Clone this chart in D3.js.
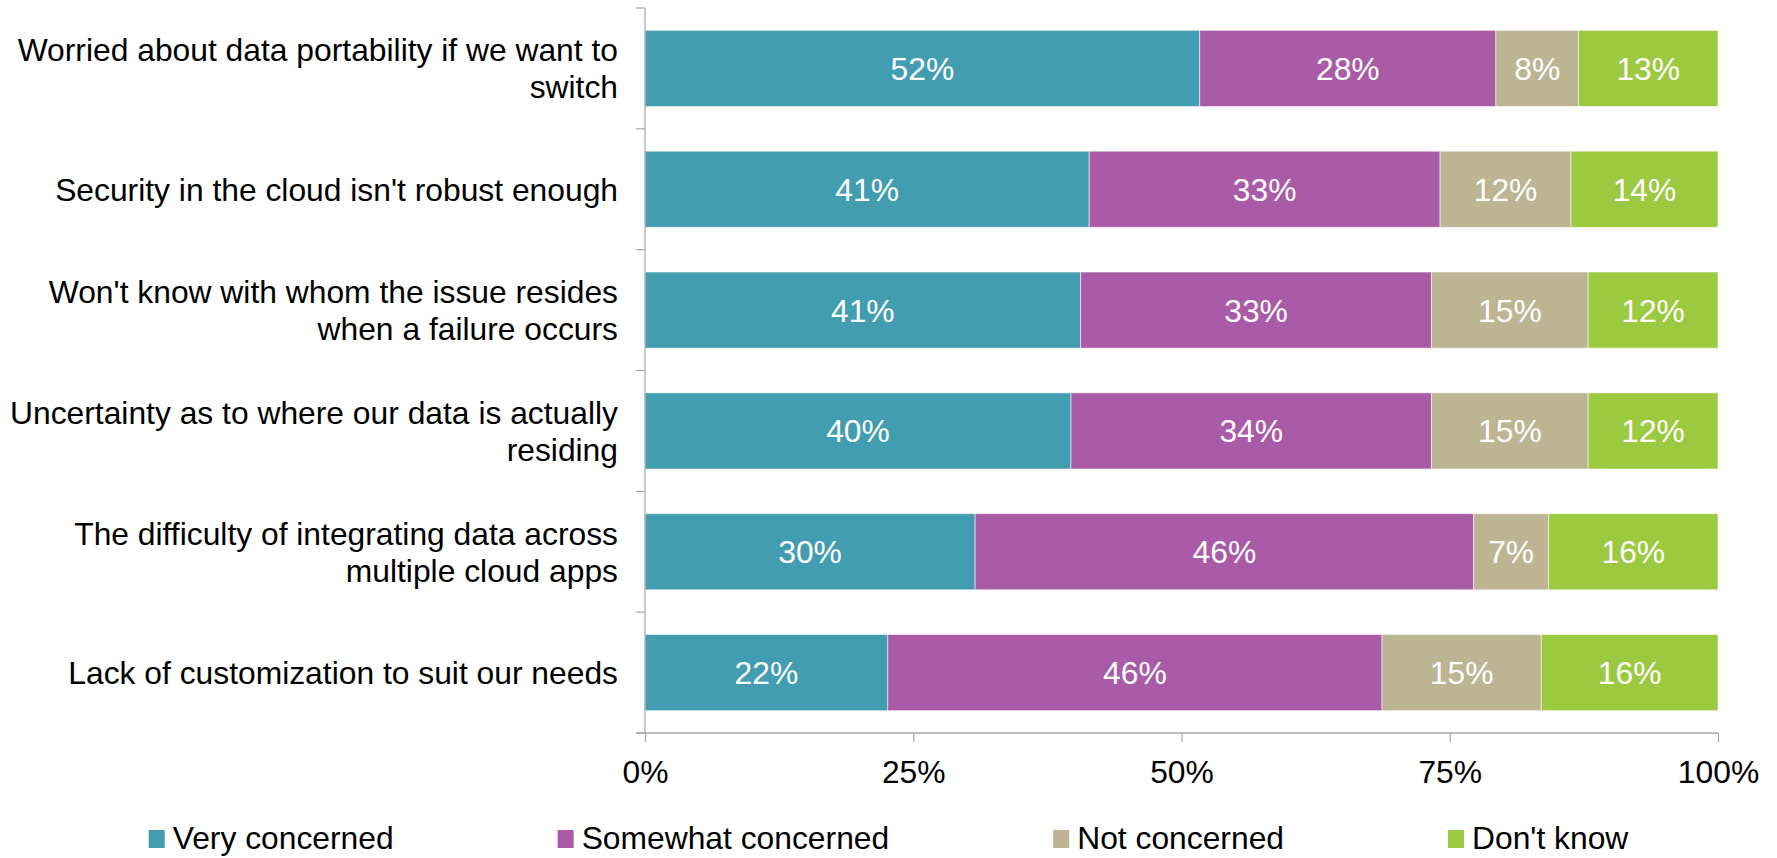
<!DOCTYPE html>
<html>
<head>
<meta charset="utf-8">
<script src="https://cdn.jsdelivr.net/npm/d3@7"></script>
<style>
  html, body { margin: 0; padding: 0; background: #ffffff; }
  svg { display: block; font-family: "Liberation Sans", Arial, sans-serif; }
</style>
</head>
<body>
<svg id="chart" width="1777" height="858"></svg>
<script>
// Survey concerns about cloud data, share of respondents per answer
const categories = [
  "Worried about data portability if we want to switch",
  "Security in the cloud isn't robust enough",
  "Won't know with whom the issue resides when a failure occurs",
  "Uncertainty as to where our data is actually residing",
  "The difficulty of integrating data across multiple cloud apps",
  "Lack of customization to suit our needs"
];
const seriesNames = ["Very concerned", "Somewhat concerned", "Not concerned", "Don't know"];
const veryConcerned     = [51.7, 41.4, 40.6, 39.7, 30.4, 22.4];
const somewhatConcerned = [27.6, 32.7, 32.7, 33.6, 45.9, 45.6];
const notConcerned      = [ 7.7, 12.2, 14.6, 14.6,  6.9, 14.7];
const dontKnow          = [13.0, 13.7, 12.1, 12.1, 15.6, 16.3];
const xTicks = [0, 0.25, 0.5, 0.75, 1];
const colors = ["#419DAF", "#A95BA8", "#BCB493", "#9BC940"];

const seriesValues = [veryConcerned, somewhatConcerned, notConcerned, dontKnow];
const rows = categories.map((c, i) => {
  const r = { category: c };
  seriesNames.forEach((s, k) => { r[s] = seriesValues[k][i]; });
  return r;
});

const svg = d3.select("#chart");
const FONT = 31.8;
const plot = { left: 645, right: 1718, top: 8, bottom: 733 };

const x = d3.scaleLinear().domain([0, 1]).range([plot.left, plot.right]);
const y = d3.scaleBand().domain(categories)
  .range([plot.top, plot.bottom]).paddingInner(0.37).paddingOuter(0.185);
const color = d3.scaleOrdinal().domain(seriesNames).range(colors);

// 100% stacked layout
const stack = d3.stack().keys(seriesNames).offset(d3.stackOffsetExpand);
const layers = stack(rows);

const gBars = svg.append("g");
layers.forEach(layer => {
  const g = gBars.append("g").attr("fill", color(layer.key));
  g.selectAll("rect").data(layer).join("rect")
    .attr("x", d => x(d[0]))
    .attr("y", d => y(d.data.category))
    .attr("width", d => x(d[1]) - x(d[0]))
    .attr("height", y.bandwidth())
    .attr("stroke", "rgba(255,255,255,0.55)")
    .attr("stroke-width", 1);
  g.selectAll("text").data(layer).join("text")
    .attr("x", d => (x(d[0]) + x(d[1])) / 2)
    .attr("y", d => y(d.data.category) + y.bandwidth() / 2)
    .attr("dy", "0.36em")
    .attr("text-anchor", "middle")
    .attr("fill", "#ffffff")
    .style("font-size", FONT + "px")
    .text(d => Math.round(d.data[layer.key]) + "%");
});

// Axes
const axisColor = "#a6a6a6";
const tickLen = 9;
const xAxis = d3.axisBottom(x).tickValues(xTicks)
  .tickFormat(d3.format(".0%")).tickSize(tickLen).tickSizeOuter(0).tickPadding(18);
const gx = svg.append("g").attr("transform", `translate(0,${plot.bottom})`).call(xAxis);
gx.select(".domain").remove();
gx.selectAll(".tick line").attr("stroke", axisColor).attr("stroke-width", 1.2);
gx.selectAll(".tick text")
  .attr("fill", "#000").style("font-size", FONT + "px")
  .style("font-family", "\"Liberation Sans\", Arial, sans-serif");
svg.append("line")
  .attr("x1", plot.left - tickLen).attr("x2", plot.right)
  .attr("y1", plot.bottom).attr("y2", plot.bottom)
  .attr("stroke", axisColor).attr("stroke-width", 1.5);

svg.append("line")
  .attr("x1", plot.left).attr("x2", plot.left)
  .attr("y1", plot.top).attr("y2", plot.bottom)
  .attr("stroke", axisColor).attr("stroke-width", 1.2);
const boundaries = d3.range(categories.length + 1).map(i => y.range()[0] + i * y.step());
svg.append("g").selectAll("line").data(boundaries).join("line")
  .attr("x1", plot.left - tickLen).attr("x2", plot.left)
  .attr("y1", d => d).attr("y2", d => d)
  .attr("stroke", axisColor).attr("stroke-width", 1.2);

// Category labels, wrapped to fit left of the axis
const labelRight = plot.left - 27;
const wrapWidth = 614;
const lineHeight = 37;
const gLabels = svg.append("g").style("font-size", FONT + "px").attr("fill", "#000");
categories.forEach(c => {
  const t = gLabels.append("text").attr("text-anchor", "end").attr("x", labelRight);
  const words = c.split(" ");
  const lines = [];
  let cur = [];
  const probe = t.append("tspan");
  words.forEach(w => {
    const trial = cur.concat([w]).join(" ");
    probe.text(trial);
    if (probe.node().getComputedTextLength() > wrapWidth && cur.length) {
      lines.push(cur.join(" "));
      cur = [w];
    } else {
      cur.push(w);
    }
  });
  lines.push(cur.join(" "));
  probe.remove();
  const cy = y(c) + y.bandwidth() / 2;
  const first = cy - (lines.length - 1) * lineHeight / 2;
  lines.forEach((ln, i) => {
    t.append("tspan").attr("x", labelRight)
      .attr("y", first + i * lineHeight).attr("dy", "0.36em").text(ln);
  });
});

// Legend, centred under the chart
const legend = svg.append("g").style("font-size", FONT + "px");
const sw = 16, swH = 18, swGap = 8, itemGap = 164, legendBase = 849;
const items = seriesNames.map(name => {
  const g = legend.append("g");
  g.append("rect").attr("width", sw).attr("height", swH)
    .attr("y", legendBase - swH - 1).attr("fill", color(name));
  const t = g.append("text").attr("x", sw + swGap).attr("y", legendBase)
    .attr("fill", "#000").text(name);
  return { g, w: sw + swGap + t.node().getComputedTextLength() };
});
const totalW = d3.sum(items, d => d.w) + itemGap * (items.length - 1);
let lx = (1777 - totalW) / 2;
items.forEach(it => {
  it.g.attr("transform", `translate(${lx},0)`);
  lx += it.w + itemGap;
});
</script>
</body>
</html>
